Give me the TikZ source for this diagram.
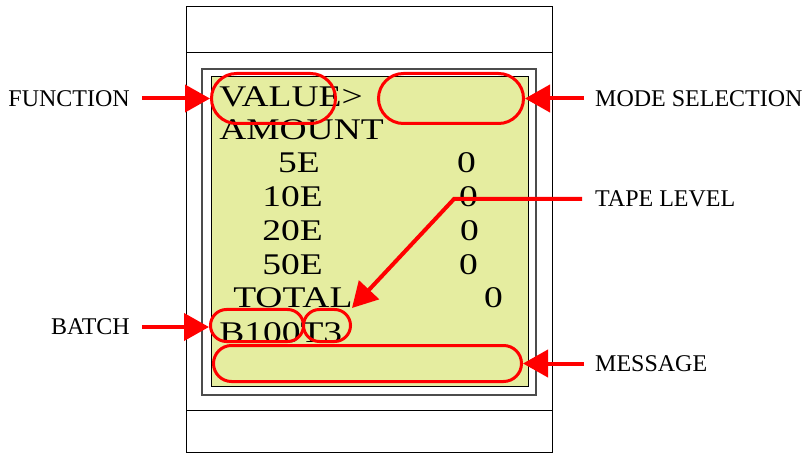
\documentclass[tikz,border=0pt]{standalone}
\usepackage{fontspec}
\setmainfont{Liberation Serif}
\usetikzlibrary{arrows.meta}
\definecolor{lcdgreen}{RGB}{229,237,160}

\begin{document}
\begin{tikzpicture}[x=1pt,y=-1pt,
  hl/.style={draw=red,line width=3pt,inner sep=0pt},
  pointer/.style={draw=red,line width=4pt,-{Triangle[length=25pt,width=27pt]}},
  lcd/.style={inner sep=0pt,font=\fontsize{30}{30}\selectfont,xscale=1.25},
  callout/.style={inner sep=0pt,font=\fontsize{24}{24}\selectfont}]

            \useasboundingbox (0,0) rectangle (803,454);

            \draw[line width=1pt] (186,7) rectangle (552,452);
            \draw[line width=1pt] (186,53) -- (552,53);
            \draw[line width=1pt] (186,410) -- (552,410);
            \draw[black!70,line width=1.5pt] (202,69) rectangle (536,395);
            \draw[line width=1pt,fill=lcdgreen] (211,77) rectangle (528,386);

            \node[lcd,anchor=base west] (value) at (219,107) {VALUE>};
            \node[lcd,anchor=base west] (amount) at (219,140) {AMOUNT};
            \node[lcd,anchor=base east] (e5) at (320,173) {5E};
            \node[lcd,anchor=base east] (e10) at (323,207) {10E};
            \node[lcd,anchor=base east] (e20) at (323,241) {20E};
            \node[lcd,anchor=base east] (e50) at (323,275) {50E};
            \node[lcd,anchor=base west] (total) at (233,308) {TOTAL};
            \node[lcd,anchor=base west] (batchtxt) at (219,342) {B100T3};
            \node[lcd,anchor=base] (n5) at (466.5,173) {0};
            \node[lcd,anchor=base] (n10) at (468.5,207) {0};
            \node[lcd,anchor=base] (n20) at (469.5,241) {0};
            \node[lcd,anchor=base] (n50) at (468.5,275) {0};
            \node[lcd,anchor=base] (ntotal) at (493.5,308) {0};

            \node[hl,minimum width=124,minimum height=50,rounded corners=25pt] (fn) at (273.5,98.5) {};
            \node[hl,minimum width=145,minimum height=50,rounded corners=25pt] (mode) at (451,98.5) {};
            \node[hl,minimum width=93,minimum height=32,rounded corners=16pt] (batch) at (257,325.5) {};
            \node[hl,minimum width=47,minimum height=32,rounded corners=16pt] (t3) at (327,325.5) {};
            \node[hl,minimum width=308,minimum height=36,rounded corners=18pt] (msg) at (367.5,363.5) {};

            \node[callout,anchor=east] (fnlab) at (130,98.5) {FUNCTION};
            \node[callout,anchor=west] (modelab) at (595,98.5) {MODE SELECTION};
            \node[callout,anchor=west] (tapelab) at (595,199) {TAPE LEVEL};
            \node[callout,anchor=east] (batchlab) at (130,327) {BATCH};
            \node[callout,anchor=west] (msglab) at (595,363.5) {MESSAGE};
            \coordinate (knee) at (454,199);

            \draw[pointer,shorten <=12pt] (fnlab) -- (fn);
            \draw[pointer,shorten <=11pt] (modelab) -- (mode);
            \draw[pointer,shorten <=13pt] (tapelab) -- (knee) -- (t3.north east);
            \draw[pointer,shorten <=12pt] (batchlab.east) -- (batchlab.east -| batch.west);
            \draw[pointer,shorten <=11pt] (msglab) -- (msg);

        \end{tikzpicture}
\end{document}
